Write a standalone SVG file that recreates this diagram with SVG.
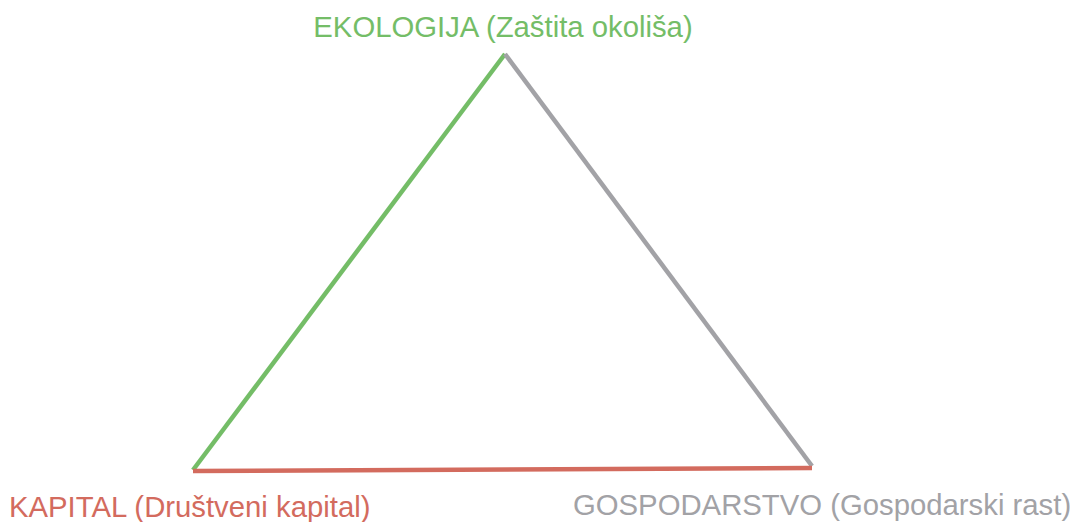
<svg xmlns="http://www.w3.org/2000/svg" width="1070" height="522" viewBox="0 0 1070 522">
<style>
text{font-family:"Liberation Sans",Arial,sans-serif;font-size:29.3px}
.g{fill:#74bd67}.r{fill:#d36b5e}.y{fill:#a2a2a6}
line{stroke-width:4.5;stroke-linecap:butt}
</style>
<rect width="1070" height="522" fill="#fff"/>
<g id="connectors">
<line x1="193" y1="470" x2="505" y2="54" stroke="#74bd67"/>
<line x1="505" y1="54" x2="812" y2="466" stroke="#a2a2a6"/>
<line x1="193" y1="471" x2="812" y2="468" stroke="#d36b5e"/>
</g>
<g id="ekologija"><text class="g" x="503" y="37" text-anchor="middle">EKOLOGIJA (Zaštita okoliša)</text></g>
<g id="kapital"><text class="r" x="9" y="517">KAPITAL (Društveni kapital)</text></g>
<g id="gospodarstvo"><text class="y" x="573" y="515">GOSPODARSTVO (Gospodarski rast)</text></g>
</svg>
